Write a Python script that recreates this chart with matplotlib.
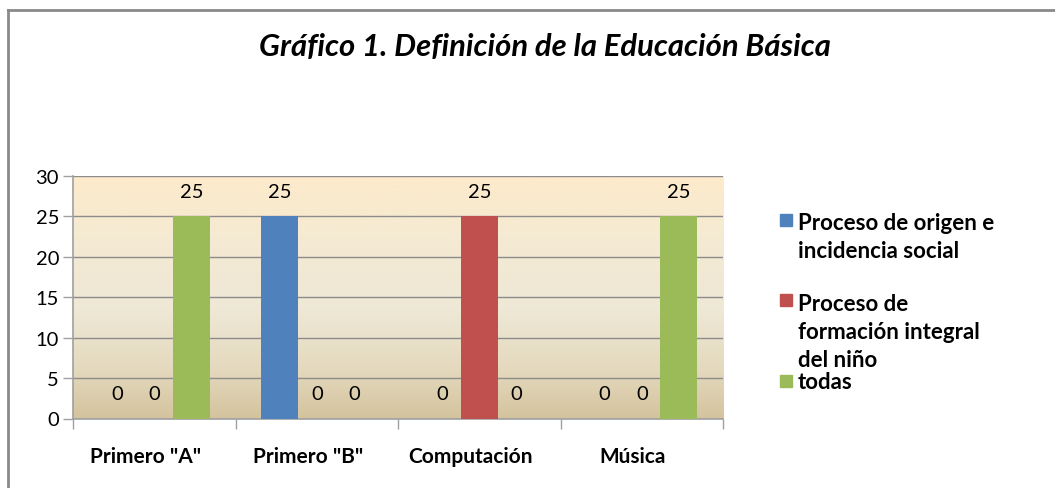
import numpy as np
import matplotlib.pyplot as plt
from matplotlib.colors import LinearSegmentedColormap
from matplotlib.lines import Line2D
from matplotlib.patches import Rectangle
from matplotlib.transforms import ScaledTranslation

# datos
categorias = ['Primero "A"', 'Primero "B"', 'Computación', 'Música']
series = ['Proceso de origen e\nincidencia social',
          'Proceso de\nformación integral\ndel niño',
          'todas']
origen = [0, 25, 0, 0]
formacion = [0, 0, 25, 0]
todas = [25, 0, 0, 25]
colores = ['#4F81BD', '#C0504D', '#9BBB59']
yticks = [0, 5, 10, 15, 20, 25, 30]

plt.rcParams['font.family'] = ['Lato', 'DejaVu Sans']

fig = plt.figure(figsize=(10.55, 4.89), dpi=100)
ax = fig.add_axes([73 / 1055, 1 - 419.5 / 489, 650 / 1055, 242.5 / 489])

# fondo degradado
fondo = LinearSegmentedColormap.from_list(
    'fondo', [(0, '#D4C39E'), (0.2, '#E4D9BD'), (0.45, '#EEE8D6'),
              (0.75, '#F5EAD3'), (1, '#FDEACB')])
ax.imshow(np.linspace(0, 1, 256).reshape(-1, 1), cmap=fondo, aspect='auto',
          extent=[0, 1, 0, 1], origin='lower', transform=ax.transAxes, zorder=0)

x = np.arange(len(categorias))
w = 0.228
for i, (vals, col) in enumerate(zip([origen, formacion, todas], colores)):
    pos = x + (i - 1) * w
    ax.bar(pos, vals, width=w, color=col, zorder=3)
    for px, v in zip(pos, vals):
        ax.annotate(str(v), (px, v), xytext=(0, 18), textcoords='offset points',
                    ha='center', va='center', fontsize=14.5, color='black', zorder=4)

ax.set_xlim(-0.5, len(categorias) - 0.5)
ax.set_ylim(0, 30)
ax.set_yticks(yticks)
ax.grid(axis='y', color='#8C8C8C', linewidth=1, zorder=1)
ax.set_axisbelow(True)

ax.set_xticks(np.arange(len(categorias) + 1) - 0.5)
ax.set_xticklabels([])
ax.set_xticks(x, minor=True)
ax.set_xticklabels(categorias, minor=True, fontsize=15, fontweight='bold')
ax.tick_params(axis='x', which='minor', length=0, pad=20)
ax.tick_params(axis='x', which='major', length=7, color='#A0A0A0', width=1)
ax.tick_params(axis='y', length=7, color='#A0A0A0', width=1, labelsize=14.5, pad=3)
# las etiquetas de categoría van un poco corridas a la izquierda, como en Excel
desplaza = ScaledTranslation(-9 / 100, 0, fig.dpi_scale_trans)
for lbl in ax.get_xticklabels(minor=True):
    lbl.set_transform(lbl.get_transform() + desplaza)

for s in ['top', 'right']:
    ax.spines[s].set_visible(False)
for s in ['left', 'bottom']:
    ax.spines[s].set_color('#A0A0A0')
    ax.spines[s].set_linewidth(1.2)

# leyenda (texto anclado a la línea base de la última línea)
ult_linea = [258, 367, 389]
cuadro_sup = [215, 295, 376]
for lab, col, yb, yc in zip(series, colores, ult_linea, cuadro_sup):
    fig.patches.append(Rectangle((780 / 1055, 1 - (yc + 12) / 489), 12 / 1055, 12 / 489,
                                 transform=fig.transFigure, color=col))
    fig.text(798 / 1055, 1 - yb / 489, lab, fontsize=16, fontweight='bold',
             va='baseline', ha='left', linespacing=1.40)

fig.text(545 / 1055, 1 - 47 / 489, 'Gráfico 1. Definición de la Educación Básica',
         fontsize=22.3, fontweight='bold', fontstyle='italic', ha='center', va='center')

# borde del gráfico
fig.add_artist(Line2D([7.5 / 1055, 7.5 / 1055], [0, 1 - 10.5 / 489], color='#8A8A8A',
                      linewidth=2, transform=fig.transFigure))
fig.add_artist(Line2D([7.5 / 1055, 1], [1 - 10.5 / 489, 1 - 10.5 / 489], color='#8A8A8A',
                      linewidth=2, transform=fig.transFigure))

fig.savefig('out.png', dpi=100)
